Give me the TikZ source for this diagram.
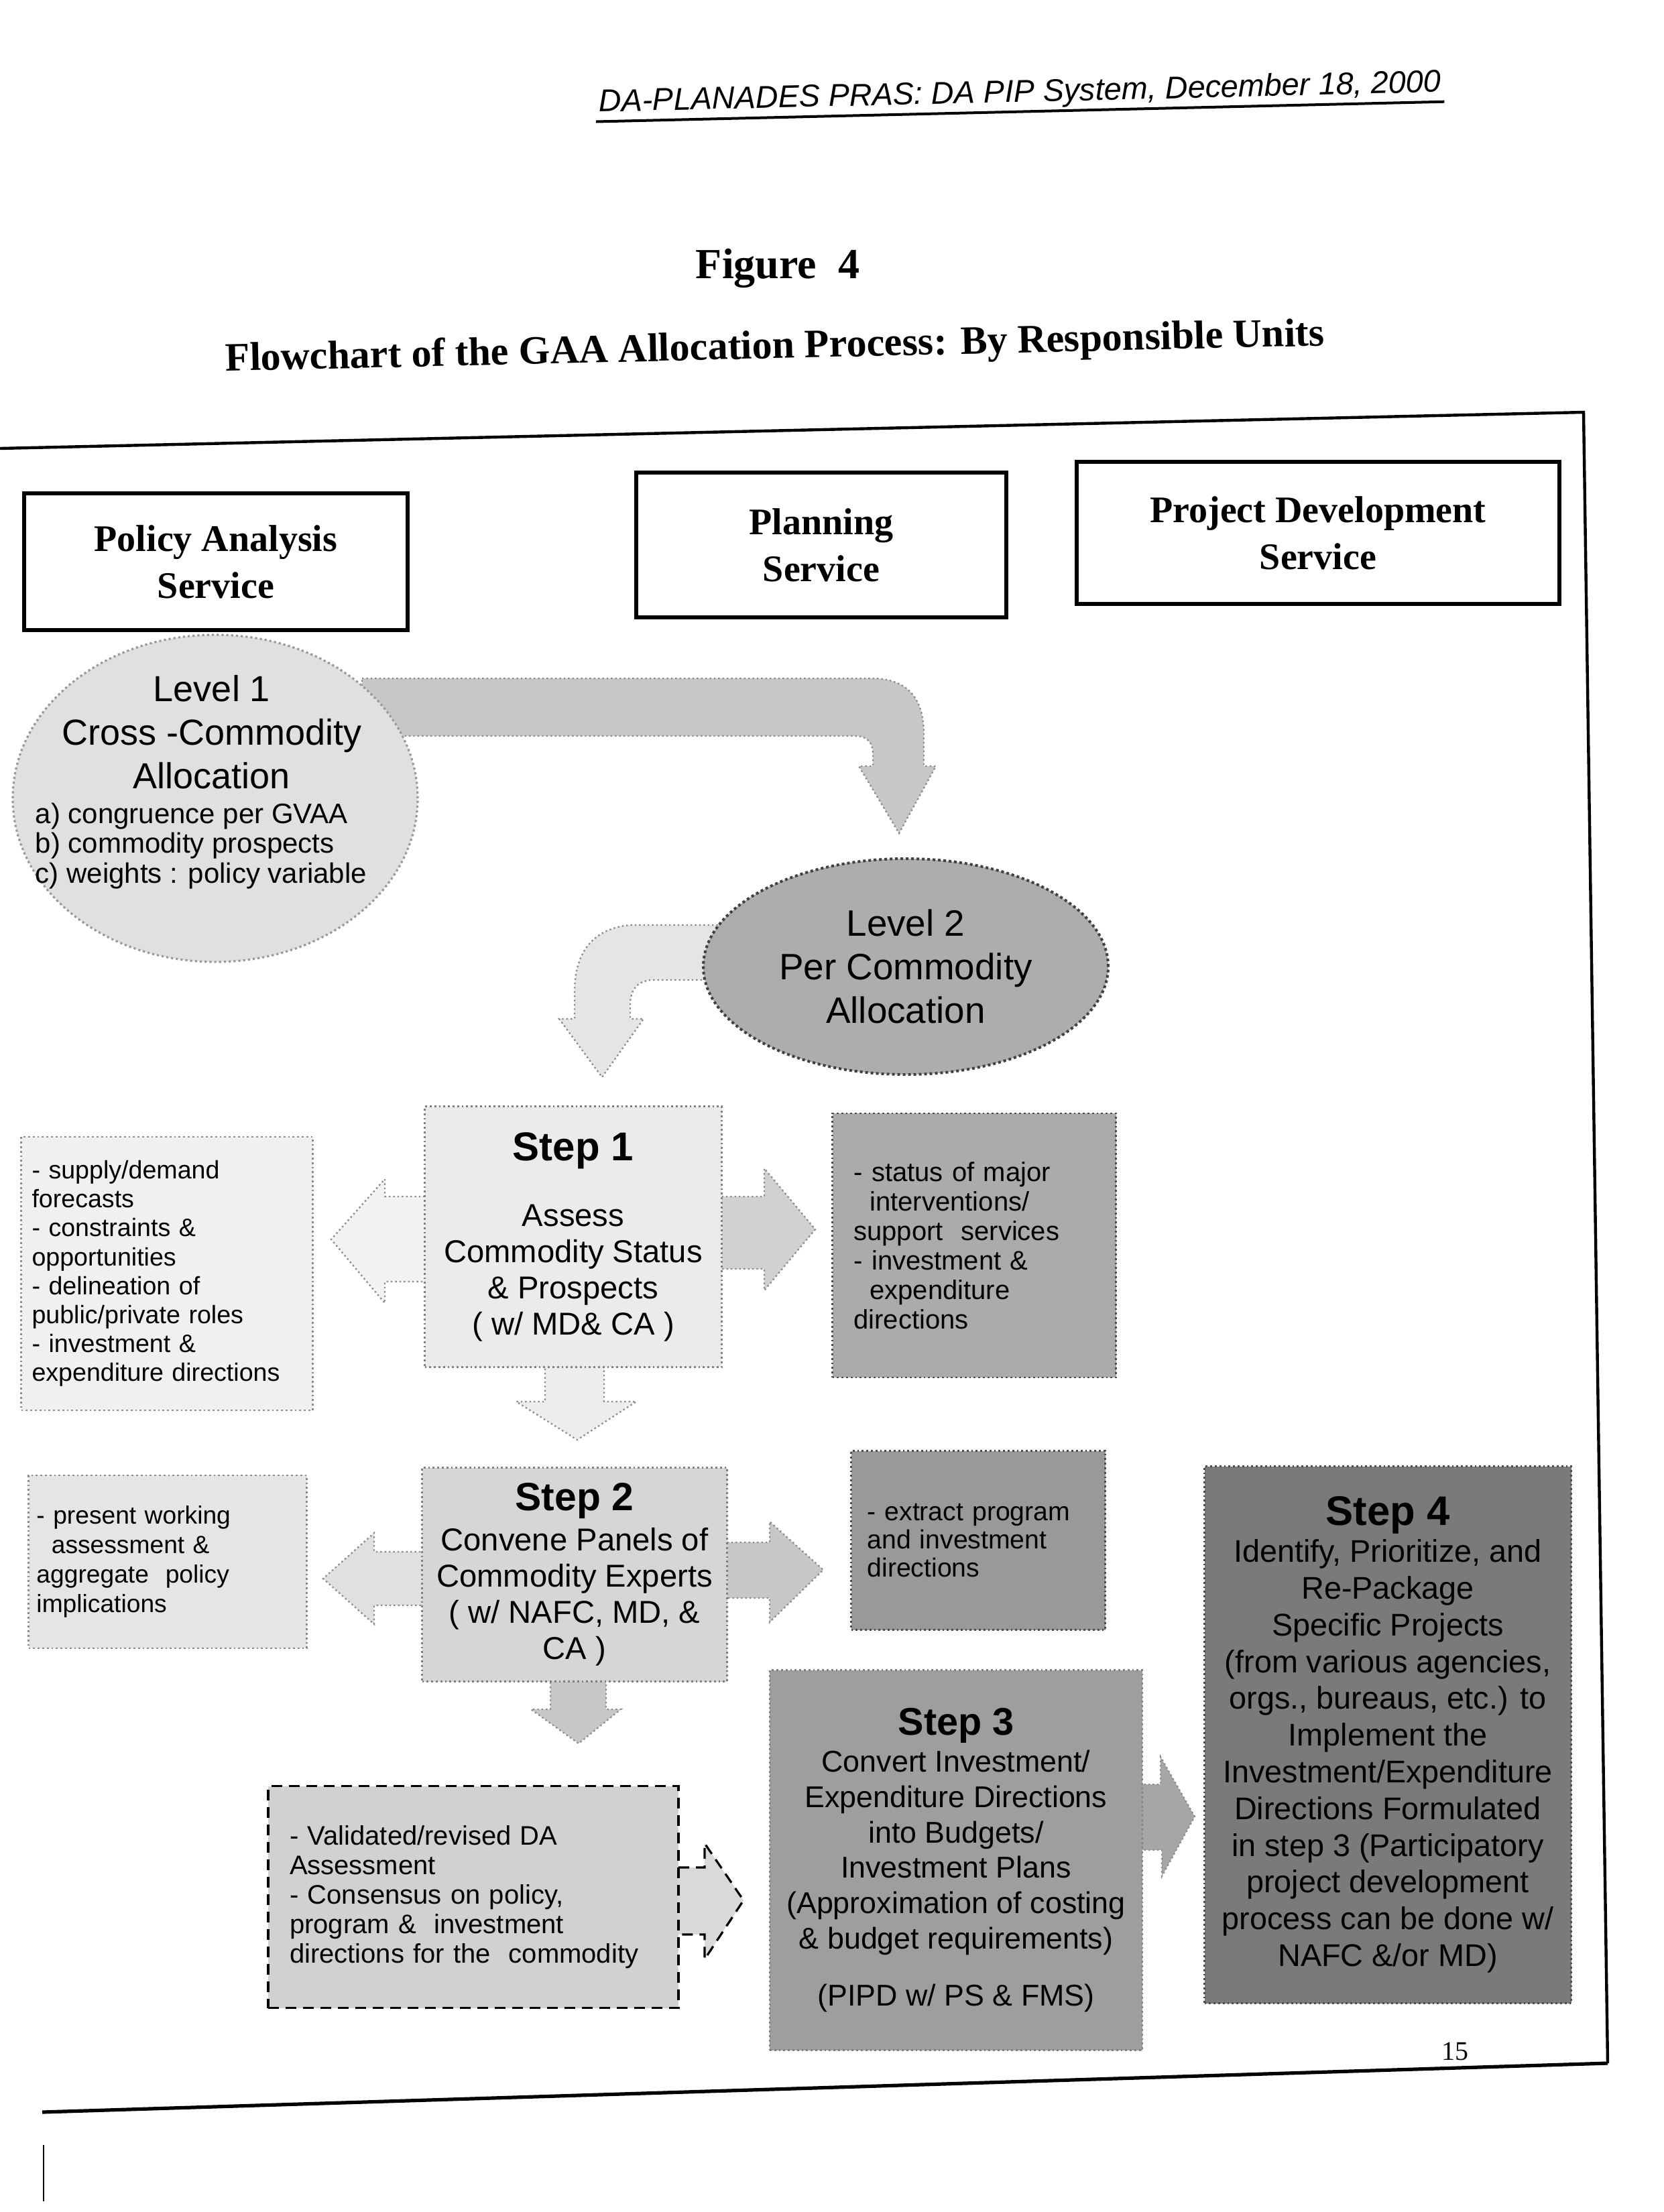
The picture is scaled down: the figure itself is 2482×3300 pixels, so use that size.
\documentclass[tikz,border=0pt]{standalone}
\usepackage{fontspec}
\setmainfont{Liberation Serif}
\newfontfamily\sansf{Liberation Sans}
\usetikzlibrary{shapes.geometric,calc}
\newcommand\fsz[2]{\fontsize{#1pt}{#2pt}\selectfont}
\begin{document}
\begin{tikzpicture}[x=0.25pt,y=-0.25pt,
  hdr/.style={draw,line width=1.5pt,align=center,inner sep=0pt,font=\bfseries\fsz{14}{17.5}},
  blk/.style={fill=#1,draw=black!45,densely dotted,line width=0.6pt},
  stepbox/.style={align=center,inner sep=0pt,font=\sansf\fsz{11.8}{13.5},draw=black!50,densely dotted,line width=0.7pt},
  notebox/.style={align=left,inner ysep=0pt,draw=black!45,densely dotted,line width=0.7pt},
  steplabel/.style={font=\sansf\bfseries\fsz{15}{17}}
]
\useasboundingbox (0,0) rectangle (2482,3300);

% page header, titles, frame
\node[font=\sansf\itshape\fsz{11.7}{14},rotate=1.35,inner sep=1pt] (runhead) at (1521,140)
  {DA-PLANADES PRAS: DA PIP System, December 18, 2000};
\draw[line width=1pt] (runhead.south west) -- (runhead.south east);
\node[font=\bfseries\fsz{16}{19}] (fig) at (1160,400) {Figure\ \ 4};
\node[font=\bfseries\fsz{15}{18},rotate=1.33] (title) at (1156,520)
  {Flowchart of the GAA Allocation Process: By Responsible Units};
\coordinate (ftl) at (0,669);
\coordinate (ftr) at (2362,615);
\coordinate (fbr) at (2398,3078);
\coordinate (fbl) at (63,3151);
\draw[line width=1.1pt] (ftl) -- (ftr) -- (fbr);
\draw[line width=1.3pt] (fbl) -- (fbr);
\node[font=\fsz{10}{12}] (pg) at (2170,3060) {15};
\coordinate (tk1) at (65,3200);
\coordinate (tk2) at (65,3284);
\draw[line width=0.5pt] (tk1) -- (tk2);

% column headers
\node[hdr,minimum width=143pt,minimum height=51pt] (pas) at (322,838) {Policy Analysis\\Service};
\node[hdr,minimum width=138pt,minimum height=54pt] (ps) at (1225,813) {Planning\\Service};
\node[hdr,minimum width=180pt,minimum height=53pt] (pds) at (1966,795) {Project Development\\Service};

% arrow Level 1 -> Level 2
\path[blk=black!22] (540,1012) -- (1300,1012) .. controls (1352,1012) and (1378,1040) .. (1378,1095)
  -- (1378,1143) -- (1396,1143) -- (1341,1243) -- (1281,1143) -- (1302,1143) -- (1302,1125)
  .. controls (1302,1106) and (1292,1098) .. (1275,1098) -- (540,1098) -- cycle;
% hook arrow from Level 2
\path[blk=black!10] (1090,1380) -- (940,1380) .. controls (885,1385) and (857,1420) .. (857,1480)
  -- (857,1520) -- (834,1520) -- (898,1607) -- (960,1520) -- (940,1520) -- (940,1495)
  .. controls (942,1475) and (950,1465) .. (970,1462) -- (1090,1462) -- cycle;

% Level 1
\node[ellipse,fill=black!12,draw=black!40,densely dotted,line width=0.8pt,
  minimum width=151pt,minimum height=122pt,inner sep=0pt] (lv1) at (321,1191) {};
\node[font=\sansf\fsz{13.5}{16.3},align=center] (lv1t) at (316,1092) {Level 1\\Cross -Commodity\\Allocation};
\node[font=\sansf\fsz{10.5}{11.2},align=left,anchor=west,inner sep=0pt] (lv1l) at (52,1262)
  {a) congruence per GVAA\\b) commodity prospects\\c) weights : policy variable};

% Level 2
\node[ellipse,fill=black!32,draw=black!75,densely dotted,line width=1pt,
  minimum width=151pt,minimum height=80.5pt,inner sep=0pt,font=\sansf\fsz{13.7}{16.3},align=center]
  (lv2) at (1351,1442) {Level 2\\Per Commodity\\Allocation};

% step 1 arrows
\path[blk=black!5] (640,1785) -- (574,1785) -- (574,1759) -- (494,1849) -- (574,1944) -- (574,1912) -- (640,1912) -- cycle;
\path[blk=black!18] (1070,1785) -- (1140,1785) -- (1140,1743) -- (1216,1834) -- (1140,1925) -- (1140,1893) -- (1070,1893) -- cycle;
\path[blk=black!7] (813,2030) -- (901,2030) -- (901,2091) -- (949,2091) -- (861,2148) -- (770,2091) -- (813,2091) -- cycle;
% step 2 arrows
\path[blk=black!12] (640,2315) -- (558,2315) -- (558,2287) -- (482,2355) -- (558,2423) -- (558,2395) -- (640,2395) -- cycle;
\path[blk=black!22] (1078,2301) -- (1148,2301) -- (1148,2270) -- (1228,2342) -- (1148,2420) -- (1148,2384) -- (1078,2384) -- cycle;
\path[blk=black!22] (821,2500) -- (904,2500) -- (904,2550) -- (926,2550) -- (863,2601) -- (792,2550) -- (821,2550) -- cycle;
% validated -> step 3
\path[fill=black!15] (1005,2786) -- (1051,2786) -- (1051,2750) -- (1109,2835) -- (1051,2923) -- (1051,2886) -- (1005,2886) -- cycle;
\draw[line width=0.8pt,dash pattern=on 4pt off 2.5pt] (1012,2786) -- (1051,2786) -- (1051,2750) -- (1109,2835) -- (1051,2923) -- (1051,2886) -- (1012,2886);
% step 3 -> step 4
\path[blk=black!35] (1700,2662) -- (1731,2662) -- (1731,2621) -- (1782,2710) -- (1733,2799) -- (1733,2760) -- (1700,2760) -- cycle;

% step boxes
\node[stepbox,fill=black!8,minimum width=110.75pt,minimum height=97.25pt] (s1) at (855,1845)
  {{\bfseries\fsz{15}{17}Step 1}\\[11pt]Assess\\Commodity Status\\\& Prospects\\( w/ MD\& CA )};
\node[stepbox,fill=black!16,minimum width=113.75pt,minimum height=79.75pt] (s2) at (857,2349)
  {{\bfseries\fsz{14.7}{17}Step 2}\\[1.5pt]Convene Panels of\\Commodity Experts\\( w/ NAFC, MD, \&\\CA )};
\node[stepbox,fill=black!38,font=\sansf\fsz{11.2}{13.2},minimum width=139pt,minimum height=141.75pt] (s3) at (1426,2775)
  {{\bfseries\fsz{14.4}{17}Step 3}\\[0.5pt]Convert Investment/\\Expenditure Directions\\into Budgets/\\Investment Plans\\(Approximation of costing\\\& budget requirements)\\[8pt](PIPD w/ PS \& FMS)};
\node[stepbox,fill=black!52,draw=black!70,font=\sansf\fsz{11.7}{13.7},minimum width=136.75pt,minimum height=200.25pt] (s4) at (2070,2588)
  {{\bfseries\fsz{15.4}{17}Step 4}\\Identify, Prioritize, and\\Re-Package\\Specific Projects\\(from various agencies,\\orgs., bureaus, etc.) to\\Implement the\\Investment/Expenditure\\Directions Formulated\\in step 3 (Participatory\\project development\\process can be done w/\\NAFC \&/or MD)};

% note boxes
\node[notebox,fill=black!6,font=\sansf\fsz{9.4}{10.8},inner xsep=4pt,text width=100.75pt,minimum height=102pt] (lb1) at (249,1900)
  {- supply/demand\\forecasts\\- constraints \&\\opportunities\\- delineation of\\public/private roles\\- investment \&\\expenditure directions};
\node[notebox,fill=black!33,draw=black!70,font=\sansf\fsz{10}{11}, inner xsep=8pt,text width=89.75pt,minimum height=98.5pt] (stat) at (1453,1858)
  {- status of major\\\hspace*{0.6em}interventions/\\support\ \ services\\- investment \&\\\hspace*{0.6em}expenditure\\directions};
\node[notebox,fill=black!10,font=\sansf\fsz{9.3}{11},inner xsep=3pt,text width=97.75pt,minimum height=64.5pt] (lb2) at (250,2330)
  {- present working\\\hspace*{0.6em}assessment \&\\aggregate\ \ policy\\implications};
\node[notebox,fill=black!40,draw=black!70,font=\sansf\fsz{9.8}{10.6},inner xsep=6pt,text width=82.75pt,minimum height=66.75pt] (ext) at (1459,2298)
  {- extract program\\and investment\\directions};
\node[notebox,fill=black!18,draw=black,solid,dash pattern=on 4pt off 2.5pt,line width=0.8pt,font=\sansf\fsz{10}{11},inner xsep=8pt,text width=137pt,minimum height=82.75pt] (val) at (706,2830)
  {- Validated/revised DA\\Assessment\\- Consensus on policy,\\program \&\ \ investment\\directions for the\ \ commodity};
\end{tikzpicture}
\end{document}
